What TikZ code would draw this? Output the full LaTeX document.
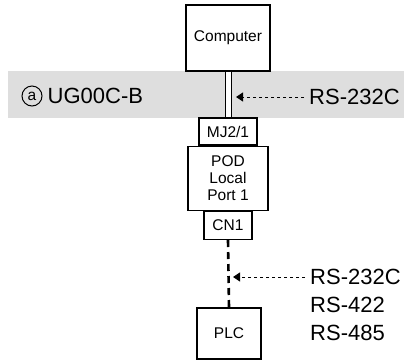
\documentclass[tikz,border=0pt]{standalone}
\usepackage{fontspec}
\setmainfont{Liberation Sans}
\usepackage{tikz}
\usetikzlibrary{arrows.meta,positioning}
\definecolor{bandgray}{RGB}{222,222,222}
\tikzset{
  unit/.style={draw, line width=1.2pt, align=center, inner sep=0pt, font=\fontsize{15.5}{17}\selectfont},
  biglabel/.style={inner sep=1pt, font=\fontsize{22}{28}\selectfont},
  dotarrow/.style={-{Triangle[length=7pt,width=9pt]}, line width=1pt, dash pattern=on 3pt off 3pt, shorten <=4pt},
  cable/.style={line width=1pt, double=white, double distance=5pt},
  serial/.style={line width=2.6pt, dash pattern=on 7pt off 5pt}
}
\begin{document}
\begin{tikzpicture}[x=1pt, y=-1pt]
  \useasboundingbox (0,0) rectangle (404,360);
  % grey cable band
  \fill[bandgray] (8,71) rectangle (404,118);
  \node[unit, minimum width=84pt, minimum height=66pt] (pc) at (228,38) {Computer};
  \node[unit, minimum width=58pt, minimum height=27pt] (mj) at (228,131.5) {MJ2/1};
  \node[unit, minimum width=80pt, minimum height=64pt, below=0pt of mj] (pod) {POD\\Local\\Port 1};
  \node[unit, minimum width=48pt, minimum height=28pt, below=0pt of pod] (cn) {CN1};
  \node[unit, minimum width=64pt, minimum height=51pt] (plc) at (229,333.5) {PLC};
  \draw[cable] (pc.south) -- (mj.north);
  \draw[serial] (cn.south) -- (plc.north);
  % cable label
  \node[circle, draw, line width=1pt, minimum size=20pt, inner sep=0pt, font=\fontsize{15.5}{17}\selectfont] (mark) at (32,96) {a};
  \node[biglabel, right=4pt of mark] (ug) {UG00C-B};
  % protocol labels
  \node[biglabel, anchor=west] (rsTop) at (308,97) {RS-232C};
  \coordinate (tipTop) at (236,97);
  \draw[dotarrow] (rsTop.west) -- (tipTop);
  \node[biglabel, anchor=west] (rsA) at (309,277) {RS-232C};
  \node[biglabel, anchor=west] (rsB) at (309,305) {RS-422};
  \node[biglabel, anchor=west] (rsC) at (309,333) {RS-485};
  \coordinate (tipLow) at (233,277);
  \draw[dotarrow] (rsA.west) -- (tipLow);
\end{tikzpicture}
\end{document}
